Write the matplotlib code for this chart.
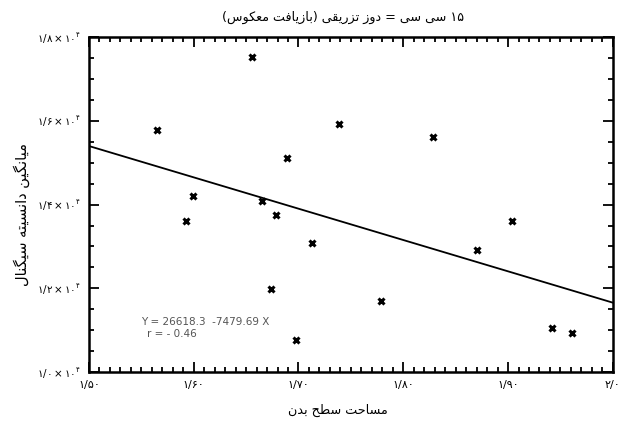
import numpy as np
import matplotlib
matplotlib.use('Agg')
import matplotlib.pyplot as plt
from matplotlib.ticker import MultipleLocator

plt.rcParams['font.family'] = ['DejaVu Sans']
plt.rcParams['mathtext.fontset'] = 'dejavusans'
plt.rcParams['mathtext.default'] = 'regular'

# data
body_area = [1.565, 1.593, 1.599, 1.656, 1.665, 1.674, 1.679, 1.689, 1.698,
             1.713, 1.739, 1.779, 1.828, 1.870, 1.904, 1.942, 1.961]
signal = [15780, 13600, 14200, 17520, 14080, 11980, 13750, 15110, 10760,
          13080, 15920, 11700, 15610, 12910, 13600, 11050, 10930]
intercept = 26618.3
slope = -7479.69

x_ticks = [1.5, 1.6, 1.7, 1.8, 1.9, 2.0]
x_labels = ['۱/۵۰', '۱/۶۰', '۱/۷۰', '۱/۸۰', '۱/۹۰', '۲/۰']
y_ticks = [10000, 12000, 14000, 16000, 18000]
y_labels = ['۱/۰', '۱/۲', '۱/۴', '۱/۶', '۱/۸']

title = '۱۵ سی سی = دوز تزریقی (بازیافت معکوس)'
xlabel = 'مساحت سطح بدن'
ylabel = 'میانگین دانسیته سیگنال'

# minimal arabic/persian shaping (no raqm in matplotlib 3.10)
FORMS = {
    'ا': ('\uFE8D', '\uFE8E', None, None),
    'ب': ('\uFE8F', '\uFE90', '\uFE91', '\uFE92'),
    'ت': ('\uFE95', '\uFE96', '\uFE97', '\uFE98'),
    'ح': ('\uFEA1', '\uFEA2', '\uFEA3', '\uFEA4'),
    'د': ('\uFEA9', '\uFEAA', None, None),
    'ر': ('\uFEAD', '\uFEAE', None, None),
    'ز': ('\uFEAF', '\uFEB0', None, None),
    'س': ('\uFEB1', '\uFEB2', '\uFEB3', '\uFEB4'),
    'ط': ('\uFEC1', '\uFEC2', '\uFEC3', '\uFEC4'),
    'ع': ('\uFEC9', '\uFECA', '\uFECB', '\uFECC'),
    'ف': ('\uFED1', '\uFED2', '\uFED3', '\uFED4'),
    'ق': ('\uFED5', '\uFED6', '\uFED7', '\uFED8'),
    'ک': ('\uFB8E', '\uFB8F', '\uFB90', '\uFB91'),
    'گ': ('\uFB92', '\uFB93', '\uFB94', '\uFB95'),
    'ل': ('\uFEDD', '\uFEDE', '\uFEDF', '\uFEE0'),
    'م': ('\uFEE1', '\uFEE2', '\uFEE3', '\uFEE4'),
    'ن': ('\uFEE5', '\uFEE6', '\uFEE7', '\uFEE8'),
    'ه': ('\uFEE9', '\uFEEA', '\uFEEB', '\uFEEC'),
    'و': ('\uFEED', '\uFEEE', None, None),
    'ی': ('\uFBFC', '\uFBFD', '\uFBFE', '\uFBFF'),
}
DIGITS = '۰۱۲۳۴۵۶۷۸۹'


def rtl(s):
    out = []
    for i, c in enumerate(s):
        if c not in FORMS:
            out.append(c)
            continue
        p = s[i - 1] if i > 0 else ''
        n = s[i + 1] if i + 1 < len(s) else ''
        jp = p in FORMS and FORMS[p][2] is not None
        jn = n in FORMS and FORMS[c][2] is not None
        iso, fin, ini, med = FORMS[c]
        if jp and jn:
            out.append(med)
        elif jp:
            out.append(fin)
        elif jn:
            out.append(ini)
        else:
            out.append(iso)
    vis = ''.join(out)[::-1]
    vis = vis.translate(str.maketrans('()', ')('))
    # keep digit runs left-to-right
    res, run = '', ''
    for c in vis:
        if c in DIGITS:
            run += c
        else:
            res += run[::-1] + c
            run = ''
    return res + run[::-1]


fig = plt.figure(figsize=(6.26, 4.21), dpi=100)
ax = fig.add_axes([0.142, 0.116, 0.837, 0.796])

ax.plot(body_area, signal, linestyle='none', marker='x', markersize=4.5,
        mew=2.2, color='black')
xl = np.array([1.5, 2.0])
ax.plot(xl, intercept + slope * xl, color='black', lw=1.3)

ax.set_xlim(1.5, 2.0)
ax.set_ylim(10000, 18000)
ax.set_xticks(x_ticks)
ax.set_xticklabels(x_labels, fontsize=8)
ax.set_yticks(y_ticks)
ax.set_yticklabels(['$' + l + '\\times۱۰^{۴}$' for l in y_labels], fontsize=7.5)
ax.xaxis.set_minor_locator(MultipleLocator(0.01))
ax.yaxis.set_minor_locator(MultipleLocator(500))
ax.tick_params(which='both', direction='in', top=True, right=True, width=1.3)
ax.tick_params(which='major', length=7, pad=6)
ax.tick_params(which='minor', length=3.5)
for sp in ax.spines.values():
    sp.set_linewidth(1.8)

ax.text(0.1, 0.14, 'Y = 26618.3  -7479.69 X', transform=ax.transAxes,
        fontsize=7.5, color='#555555')
ax.text(0.11, 0.105, 'r = - 0.46', transform=ax.transAxes,
        fontsize=7.5, color='#555555')

fig.text(343 / 626, 1 - 17 / 421, rtl(title), fontsize=9.2,
         ha='center', va='center')
fig.text(338 / 626, 1 - 410 / 421, rtl(xlabel), fontsize=9.2,
         ha='center', va='center')
fig.text(22 / 626, 1 - 214 / 421, rtl(ylabel), fontsize=10.5,
         rotation=90, ha='center', va='center')

fig.savefig('out.png', dpi=100)
